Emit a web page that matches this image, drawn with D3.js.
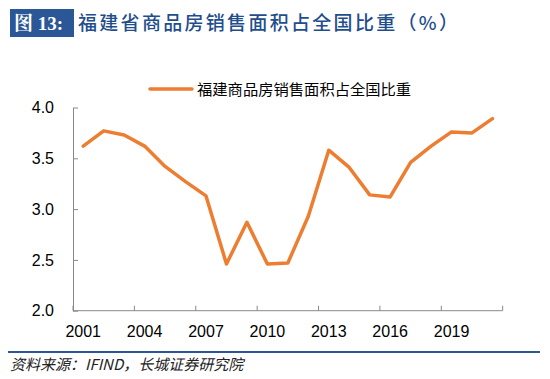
<!DOCTYPE html>
<html><head><meta charset="utf-8">
<script src="https://cdn.jsdelivr.net/npm/d3@7/dist/d3.min.js"></script>
<style>body{margin:0;background:#fff;} svg{display:block;}</style>
</head><body>
<script>
const years = d3.range(2001, 2022).map(String);
const values = [3.62,3.77,3.73,3.62,3.42,3.27,3.13,2.46,2.87,2.46,2.47,2.93,3.58,3.41,3.14,3.12,3.46,3.62,3.76,3.75,3.89];
const yTicks = [2.0,2.5,3.0,3.5,4.0];
const xLabels = ["2001","2004","2007","2010","2013","2016","2019"];
const seriesName = "福建商品房销售面积占全国比重";
const titleLabel = "图 13:";
const titleText = "福建省商品房销售面积占全国比重（%）";
const sourceText = "资料来源：IFIND，长城证券研究院";

const W = 550, H = 379;
const svg = d3.select("body").append("svg").attr("width", W).attr("height", H);
const m = {l:73, r:W-502.7, t:107.5, b:H-310.7};

const x = d3.scaleBand().domain(years).range([m.l, W-m.r]);
const y = d3.scaleLinear().domain([2,4]).range([H-m.b, m.t]);

// title
svg.append("rect").attr("x",10).attr("y",9).attr("width",64).attr("height",28).attr("fill","#2b5797");
svg.append("text").attr("x",14).attr("y",30).attr("fill","#fff")
  .style("font-family","'Liberation Serif','Noto Serif CJK SC','Noto Sans CJK SC',serif").style("font-size","19px").style("font-weight","bold")
  .text(titleLabel);
svg.append("text").attr("x",78).attr("y",30).attr("fill","#1f4e8c")
  .style("font-family","'Noto Sans CJK SC',sans-serif").style("font-size","19px").style("font-weight","500")
  .style("letter-spacing","2.3px")
  .text(titleText);

// axes
const axisColor = "#898989";
const yAxis = svg.append("g").attr("transform",`translate(${m.l},0)`)
  .call(d3.axisLeft(y).tickValues(yTicks).tickFormat(d3.format(".1f")).tickSizeInner(-5).tickSizeOuter(0).tickPadding(19));
yAxis.select(".domain").attr("stroke",axisColor);
yAxis.selectAll(".tick line").attr("stroke",axisColor);
yAxis.selectAll("text").style("font-family","'Liberation Sans',Arial,sans-serif").style("font-size","16px").attr("fill","#000");

const xAxisG = svg.append("g").attr("transform",`translate(0,${H-m.b})`);
xAxisG.append("line").attr("x1",m.l).attr("x2",W-m.r).attr("stroke",axisColor);
const boundaries = d3.range(0, years.length+1, 3).map(i => m.l + i*x.step());
xAxisG.selectAll(".tk").data(boundaries).join("line").attr("class","tk")
  .attr("x1",d=>d).attr("x2",d=>d).attr("y1",0).attr("y2",-5).attr("stroke",axisColor);
xAxisG.selectAll(".lb").data(xLabels).join("text").attr("class","lb")
  .attr("x",d=>x(d)+x.bandwidth()/2).attr("y",26.5).attr("text-anchor","middle")
  .style("font-family","'Liberation Sans',Arial,sans-serif").style("font-size","16px").attr("fill","#000")
  .text(d=>d);

// line
const color = "#ED7D31";
const line = d3.line().x((d,i)=>x(years[i])+x.bandwidth()/2).y(d=>y(d));
svg.append("path").datum(values).attr("d",line).attr("fill","none")
  .attr("stroke",color).attr("stroke-width",3.5).attr("stroke-linejoin","round").attr("stroke-linecap","round");

// legend
svg.append("line").attr("x1",150).attr("x2",192).attr("y1",89).attr("y2",89)
  .attr("stroke",color).attr("stroke-width",3.5).attr("stroke-linecap","round");
svg.append("text").attr("x",197).attr("y",94.5)
  .style("font-family","'Noto Sans CJK SC',sans-serif").style("font-size","15.3px").attr("fill","#000")
  .text(seriesName);

// footer
svg.append("line").attr("x1",8).attr("x2",540).attr("y1",352).attr("y2",352).attr("stroke","#2b5797").attr("stroke-width",2);
svg.append("text").attr("x",10).attr("y",370)
  .style("font-family","'Noto Sans CJK SC',serif").style("font-size","15px").style("font-style","italic").attr("fill","#222")
  .text(sourceText);
</script>
</body></html>
